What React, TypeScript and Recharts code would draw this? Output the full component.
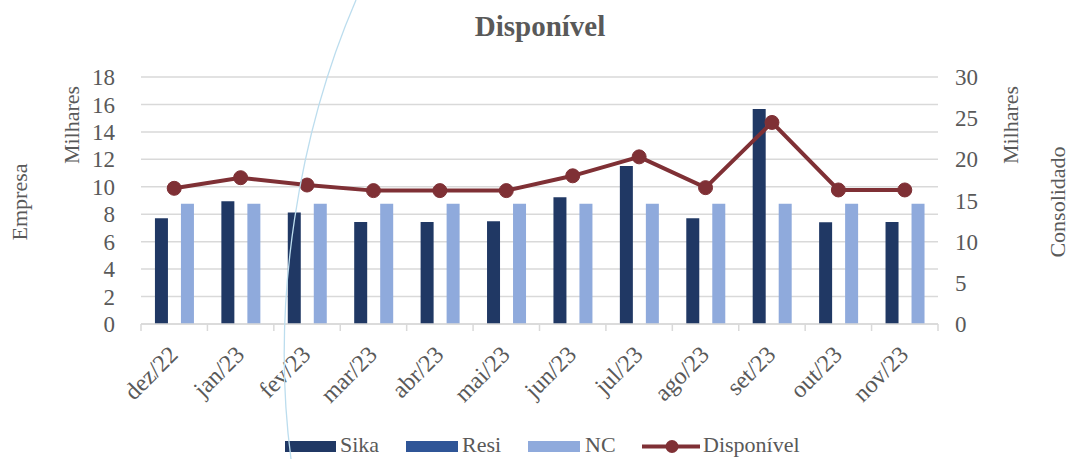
import React from "react";
import { ComposedChart, Bar, Line, XAxis, YAxis, CartesianGrid } from "recharts";

const months = ["dez/22", "jan/23", "fev/23", "mar/23", "abr/23", "mai/23", "jun/23", "jul/23", "ago/23", "set/23", "out/23", "nov/23"];
const sika = [7.71, 8.95, 8.12, 7.44, 7.44, 7.49, 9.24, 11.51, 7.71, 15.66, 7.42, 7.44];
const resi = [0, 0, 0, 0, 0, 0, 0, 0, 0, 0, 0, 0];
const nc = [8.77, 8.77, 8.77, 8.77, 8.77, 8.77, 8.77, 8.77, 8.77, 8.77, 8.77, 8.77];
const disponivel = [16.48, 17.77, 16.88, 16.2, 16.2, 16.2, 18.0, 20.3, 16.56, 24.48, 16.28, 16.28];
const leftTicks = [0, 2, 4, 6, 8, 10, 12, 14, 16, 18];
const rightTicks = [0, 5, 10, 15, 20, 25, 30];

const data = months.map((m, i) => ({ month: m, sika: sika[i], resi: resi[i], nc: nc[i], disp: disponivel[i] }));

const FONT = "Liberation Serif, Times New Roman, serif";
const TXT = "#595959";
const GRID = "#D9D9D9";
const C_SIKA = "#203864";
const C_RESI = "#2F5597";
const C_NC = "#8FAADC";
const C_LINE = "#7F3035";

const XTick = (props: any) => {
  const { x, y, payload, index } = props;
  const half = payload && typeof payload.offset === "number" && payload.offset > 0 ? payload.offset : 33.2;
  const axisY = y - 8;
  const tx = x + 5;
  const ty = axisY + 32;
  return (
    <g>
      <line x1={x - half} x2={x - half} y1={axisY} y2={axisY + 7} stroke={GRID} strokeWidth={1.5} />
      {index === months.length - 1 ? (
        <line x1={x + half} x2={x + half} y1={axisY} y2={axisY + 7} stroke={GRID} strokeWidth={1.5} />
      ) : null}
      <text x={tx} y={ty} transform={`rotate(-45, ${tx}, ${ty})`} textAnchor="end" style={{ fontFamily: FONT }} fontSize={24} fill={TXT}>
        {payload.value}
      </text>
    </g>
  );
};

const LegendLabel = ({ x, children }: { x: number; children: React.ReactNode }) => (
  <text x={x} y={452} style={{ fontFamily: FONT, fontSize: 22 }} fill={TXT}>
    {children}
  </text>
);

export default function App() {
  return (
    <div style={{ position: "fixed", left: 0, top: 0, width: 1070, height: 459, background: "#fff", overflow: "hidden", fontFamily: FONT }}>
      <ComposedChart
        width={1070}
        height={459}
        data={data}
        margin={{ top: 77, right: 0, bottom: 0, left: 0 }}
        barCategoryGap="21%"
        barGap={0}
      >
        <CartesianGrid yAxisId="left" vertical={false} stroke={GRID} strokeWidth={1.5} />
        <XAxis
          dataKey="month"
          height={135}
          interval={0}
          axisLine={{ stroke: GRID, strokeWidth: 1.5 }}
          tickLine={false}
          tickSize={6}
          tickMargin={2}
          tick={<XTick />}
        />
        <YAxis
          yAxisId="left"
          orientation="left"
          width={141}
          domain={[0, 18]}
          ticks={leftTicks}
          interval={0}
          axisLine={false}
          tickLine={false}
          tickMargin={20}
          tick={{ fontFamily: FONT, fontSize: 23, fill: TXT }}
        />
        <YAxis
          yAxisId="right"
          orientation="right"
          width={132}
          domain={[0, 30]}
          ticks={rightTicks}
          interval={0}
          axisLine={false}
          tickLine={false}
          tickMargin={11}
          tick={{ fontFamily: FONT, fontSize: 23, fill: TXT, textAnchor: "start" }}
        />
        <Bar yAxisId="left" dataKey="sika" name="Sika" fill={C_SIKA} isAnimationActive={false} />
        <Bar yAxisId="left" dataKey="resi" name="Resi" fill={C_RESI} isAnimationActive={false} />
        <Bar yAxisId="left" dataKey="nc" name="NC" fill={C_NC} isAnimationActive={false} />
        <Line
          yAxisId="right"
          dataKey="disp"
          name="Disponível"
          stroke={C_LINE}
          strokeWidth={4}
          dot={{ r: 7, fill: C_LINE, stroke: C_LINE, strokeWidth: 1 }}
          isAnimationActive={false}
        />
      </ComposedChart>
      <svg width={1070} height={459} style={{ position: "absolute", left: 0, top: 0, pointerEvents: "none" }}>
        <text x={540} y={36} textAnchor="middle" style={{ fontFamily: FONT }} fontSize={29} fontWeight="bold" fill={TXT}>
          Disponível
        </text>
        <text transform="translate(79,125) rotate(-90)" textAnchor="middle" style={{ fontFamily: FONT }} fontSize={22} fill={TXT}>
          Milhares
        </text>
        <text transform="translate(27,202) rotate(-90)" textAnchor="middle" style={{ fontFamily: FONT }} fontSize={22} fill={TXT}>
          Empresa
        </text>
        <text transform="translate(1018,125) rotate(-90)" textAnchor="middle" style={{ fontFamily: FONT }} fontSize={22} fill={TXT}>
          Milhares
        </text>
        <text transform="translate(1065,202) rotate(-90)" textAnchor="middle" style={{ fontFamily: FONT }} fontSize={22} fill={TXT}>
          Consolidado
        </text>
        <rect x={285} y={441} width={51} height={11} fill={C_SIKA} />
        <LegendLabel x={340}>Sika</LegendLabel>
        <rect x={406} y={441} width={52} height={11} fill={C_RESI} />
        <LegendLabel x={462}>Resi</LegendLabel>
        <rect x={528} y={441} width={52} height={11} fill={C_NC} />
        <LegendLabel x={585}>NC</LegendLabel>
        <line x1={642} x2={700} y1={446.5} y2={446.5} stroke={C_LINE} strokeWidth={4} />
        <circle cx={672} cy={446.5} r={6.5} fill={C_LINE} />
        <LegendLabel x={703}>Disponível</LegendLabel>
        <path d="M 356 0 C 300 130, 270 300, 291 459" fill="none" stroke="#BCDDEE" strokeWidth={1.3} />
      </svg>
    </div>
  );
}
